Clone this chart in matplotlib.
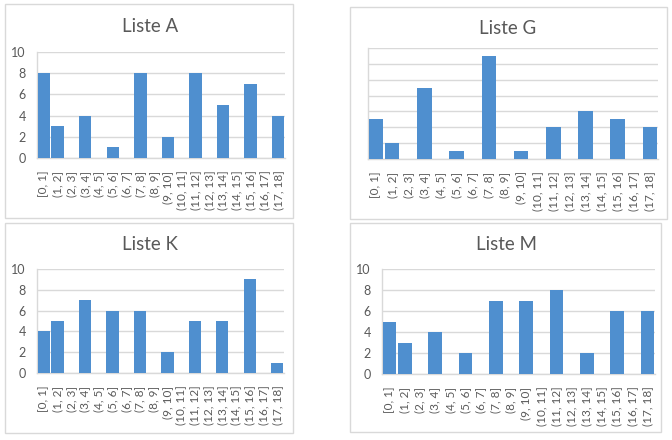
import matplotlib
matplotlib.use("Agg")
import matplotlib.pyplot as plt
from matplotlib.patches import Rectangle

# ------------------------------------------------------------
# Data: counts per interval for each list
# ------------------------------------------------------------
categories = ["[0, 1]"] + [f"({i}, {i + 1}]" for i in range(1, 18)]

liste_a = [8, 3, 0, 4, 0, 1, 0, 8, 0, 2, 0, 8, 0, 5, 0, 7, 0, 4]
liste_g = [5, 2, 0, 9, 0, 1, 0, 13, 0, 1, 0, 4, 0, 6, 0, 5, 0, 4]
liste_k = [4, 5, 0, 7, 0, 6, 0, 6, 0, 2, 0, 5, 0, 5, 0, 9, 0, 1]
liste_m = [5, 3, 0, 4, 0, 2, 0, 7, 0, 7, 0, 8, 0, 2, 0, 6, 0, 6]

titles = ["Liste A", "Liste G", "Liste K", "Liste M"]

# ------------------------------------------------------------
# Styling (Excel look)
# ------------------------------------------------------------
plt.rcParams['font.family'] = ['Lato', 'DejaVu Sans']
BAR_COLOR = "#4f8fcf"
TEXT_COLOR = "#595959"
GRID_COLOR = "#d9d9d9"

W, H = 672, 440
fig = plt.figure(figsize=(W / 100, H / 100), dpi=100)


def px_box(x0, y0, x1, y1):
    # pixel box (top-left origin) -> figure fraction [left, bottom, w, h]
    return [x0 / W, 1 - y1 / H, (x1 - x0) / W, (y1 - y0) / H]


# panel frame, plot area, title position, y max, show y labels
panels = [
    dict(vals=liste_a, frame=(5, 4, 293, 218), plot=(37, 52, 285, 158), title=(150, 26), ymax=10, ylabels=True),
    dict(vals=liste_g, frame=(350, 7, 667, 219), plot=(368, 48, 658, 159), title=(508, 29), ymax=14, ylabels=False),
    dict(vals=liste_k, frame=(5, 223, 293, 433), plot=(37, 269, 284, 373), title=(150, 244), ymax=10, ylabels=True),
    dict(vals=liste_m, frame=(350, 223, 661, 432), plot=(382, 269, 655, 374), title=(507, 244), ymax=10, ylabels=True),
]

for p, title in zip(panels, titles):
    # light grey border around each chart
    fx0, fy0, fx1, fy1 = p["frame"]
    l, b, w, h = px_box(fx0, fy0, fx1, fy1)
    fig.patches.append(Rectangle((l, b), w, h, transform=fig.transFigure,
                                 fill=False, edgecolor=GRID_COLOR, linewidth=1))

    ax = fig.add_axes(px_box(*p["plot"]))
    x = range(len(categories))
    ax.bar(x, p["vals"], width=0.9, color=BAR_COLOR, zorder=3)

    ax.set_xlim(-0.5, len(categories) - 0.5)
    ax.set_ylim(0, p["ymax"])
    ax.set_yticks(range(0, p["ymax"] + 1, 2))
    ax.set_xticks(list(x))
    ax.set_xticklabels(categories, rotation=90, fontsize=8.5, color=TEXT_COLOR)

    ax.grid(axis='y', color=GRID_COLOR, linewidth=1, zorder=0)
    ax.tick_params(axis='x', length=0, pad=9)
    ax.tick_params(axis='y', length=0, pad=8, labelsize=9, labelcolor=TEXT_COLOR)
    if not p["ylabels"]:
        ax.set_yticklabels([])

    for side in ["top", "right"]:
        ax.spines[side].set_visible(False)
    for side in ["left", "bottom"]:
        ax.spines[side].set_color(GRID_COLOR)
        ax.spines[side].set_linewidth(1)

    tx, ty = p["title"]
    fig.text(tx / W, 1 - ty / H, title, ha='center', va='center',
             fontsize=13.5, color=TEXT_COLOR)

plt.savefig("out.png", dpi=100)
